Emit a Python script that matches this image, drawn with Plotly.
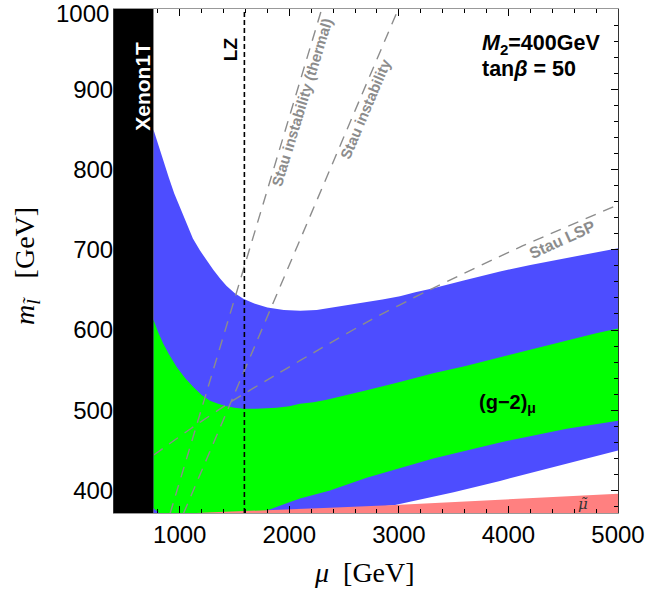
import plotly.graph_objects as go

# ---------------- data ----------------
x_range = [400, 5000]
y_range = [372, 1000]
x_ticks = [1000, 2000, 3000, 4000, 5000]
y_ticks = [400, 500, 600, 700, 800, 900, 1000]
y_ticktext = ["400", "500", "600", "700", "800", "900", ""]   # top label drawn separately, nudged down
y_top_label = "1000"

xenon_mu_max = 760          # Xenon1T excluded region: mu < 760 GeV
lz_mu = 1590                # LZ reach

blue_upper_mu = [760, 790, 820, 860, 900, 950, 1000, 1060, 1120, 1185, 1250, 1306, 1370, 1428, 1500, 1580,
                 1680, 1800, 1950, 2100, 2250, 2400, 2550, 2706, 2850, 3010, 3150, 3314, 3600, 3923, 4200,
                 4532, 4800, 5000]
blue_upper_v = [850, 837, 823, 806, 790, 770, 753, 732, 714, 699, 686, 675, 664, 655, 646, 639,
                633, 628, 625, 624, 625, 628, 631, 635, 638, 642, 647, 652, 662, 673, 681,
                690, 697, 702]
blue_lower_mu = [760, 2965, 3500, 3923, 4500, 5000]
blue_lower_v = [350, 382, 398, 412, 432, 450]

green_upper_mu = [760, 800, 850, 900, 972, 1050, 1124, 1200, 1276, 1350, 1428, 1500, 1580, 1700, 1885,
                  2000, 2098, 2220, 2341, 2500, 2706, 3000, 3314, 3600, 3923, 4200, 4501, 4800, 5000]
green_upper_v = [613, 598, 583, 570, 554, 540, 529, 519, 512, 508, 505, 503, 502, 502, 503,
                 505, 508, 510, 513, 518, 525, 535, 546, 555, 566, 575, 586, 596, 602]
green_lower_mu = [760, 820, 900, 1500, 1794, 1950, 2098, 2230, 2371, 2706, 3000, 3314, 3923, 4532, 5000]
green_lower_v = [378, 371, 362, 366, 375, 383, 390, 395, 400, 416, 428, 440, 460, 477, 487]

smuon_top_mu = [400, 1300, 2370, 2965, 5000]
smuon_top_v = [367, 373, 378.5, 382, 396]

stau_lsp_mu = [760, 1100, 1460, 1900, 2300, 2750, 3250, 4100, 5000]
stau_lsp_v = [444, 477, 510, 546, 578, 613, 648, 703, 756]
stau_thermal_mu = [911, 2296]
stau_thermal_v = [371, 1000]
stau_inst_mu = [1033, 2995]
stau_inst_v = [371, 1000]

floor_v = 300  # below the visible range, used to close filled regions

# ---------------- colours ----------------
BLUE = "#4d4dff"
GREEN = "#00ff00"
PINK = "#ff8080"
GRAY = "#8c8c8c"

fig = go.Figure()

# blue band
fig.add_trace(go.Scatter(
    x=blue_upper_mu + blue_lower_mu[::-1],
    y=blue_upper_v + blue_lower_v[::-1],
    fill="toself", fillcolor=BLUE, line=dict(width=0), mode="lines",
    hoverinfo="skip"))

# green band
fig.add_trace(go.Scatter(
    x=green_upper_mu + green_lower_mu[::-1],
    y=green_upper_v + green_lower_v[::-1],
    fill="toself", fillcolor=GREEN, line=dict(width=0), mode="lines",
    hoverinfo="skip"))

# smuon (pink) region
fig.add_trace(go.Scatter(
    x=smuon_top_mu + [smuon_top_mu[-1], smuon_top_mu[0]],
    y=smuon_top_v + [floor_v, floor_v],
    fill="toself", fillcolor=PINK, line=dict(width=0), mode="lines",
    hoverinfo="skip"))

# gray dashed stau lines
for mu, v in [(stau_lsp_mu, stau_lsp_v), (stau_thermal_mu, stau_thermal_v), (stau_inst_mu, stau_inst_v)]:
    fig.add_trace(go.Scatter(x=mu, y=v, mode="lines",
                             line=dict(color=GRAY, width=1.4, dash="11px,8px", shape="spline", smoothing=0.6),
                             hoverinfo="skip"))

# LZ line
fig.add_trace(go.Scatter(x=[lz_mu, lz_mu], y=[y_range[0], y_range[1]], mode="lines",
                         line=dict(color="black", width=1.6, dash="5px,3px"),
                         hoverinfo="skip"))

# Xenon1T black region
fig.add_trace(go.Scatter(
    x=[x_range[0], xenon_mu_max, xenon_mu_max, x_range[0], x_range[0]],
    y=[y_range[0] - 50, y_range[0] - 50, y_range[1] + 50, y_range[1] + 50, y_range[0] - 50],
    fill="toself", fillcolor="black", line=dict(width=0), mode="lines",
    hoverinfo="skip"))

SANS = "Liberation Sans, Arial, sans-serif"
SERIF = "Liberation Serif, Times New Roman, serif"
NB = "\u00a0"

ann = []
ann.append(dict(x=653, y=904, text="<b>Xenon1T</b>", textangle=-90, showarrow=False,
                font=dict(family=SANS, size=21, color="white")))
ann.append(dict(x=1459, y=950, text="<b>LZ</b>", textangle=-90, showarrow=False,
                font=dict(family=SANS, size=19, color="black")))
ann.append(dict(x=3740, y=956, text="<b><i>M</i><sub>2</sub>=400GeV</b>", xanchor="left",
                showarrow=False, font=dict(family=SANS, size=21.5, color="black")))
ann.append(dict(x=3740, y=925, text="<b>tan<i>β</i> = 50</b>", xanchor="left",
                showarrow=False, font=dict(family=SANS, size=21.5, color="black")))
ann.append(dict(x=3713, y=509, text="<b>(g−2)<sub>μ</sub></b>", xanchor="left",
                showarrow=False, font=dict(family=SANS, size=20, color="black")))
ann.append(dict(x=4493, y=713, text="<b>Stau LSP</b>", textangle=-24.5, showarrow=False,
                font=dict(family=SANS, size=16, color=GRAY)))
ann.append(dict(x=2691, y=875, text="<b>Stau instability</b>", textangle=-67, showarrow=False,
                font=dict(family=SANS, size=15, color=GRAY)))
ann.append(dict(x=2116, y=883, text="<b>Stau instability (thermal)</b>", textangle=-73, showarrow=False,
                font=dict(family=SANS, size=15, color=GRAY)))
ann.append(dict(x=4681, y=383, text="<i>μ̃</i>", showarrow=False,
                font=dict(family="DejaVu Serif, serif", size=15, color="#333333")))
# top y tick label, nudged down slightly as in the reference
ann.append(dict(xref="paper", yref="y", x=0, y=y_ticks[-1], text=y_top_label,
                xanchor="right", yanchor="middle", xshift=-3, yshift=-4, showarrow=False,
                font=dict(family=SANS, size=24, color="black")))
# axis titles
ann.append(dict(xref="paper", yref="paper", x=0.498, y=-0.118, text="<i>μ</i>" + NB * 2 + "[GeV]",
                showarrow=False, yanchor="middle",
                font=dict(family=SERIF, size=28, color="black")))
ann.append(dict(xref="paper", yref="paper", x=-0.1745, y=0.49,
                text="<i>m</i><sub><i>l̃</i></sub>" + NB * 3 + "[GeV]", textangle=-90,
                showarrow=False, xanchor="center", yanchor="middle",
                font=dict(family=SERIF, size=28, color="black")))

fig.update_layout(
    width=647, height=595,
    margin=dict(l=114, r=29, t=9, b=82, autoexpand=False),
    paper_bgcolor="white", plot_bgcolor="white",
    showlegend=False,
    annotations=ann,
    xaxis=dict(range=x_range, tickvals=x_ticks, ticks="inside", ticklen=7, tickwidth=1,
               tickcolor="black", showline=True, linecolor="#999999", linewidth=1,
               mirror="ticks", showgrid=False, zeroline=False, automargin=False,
               ticklabeloverflow="allow",
               tickfont=dict(family=SANS, size=24, color="black"),
               minor=dict(dtick=200, tick0=0, ticks="inside", ticklen=4, tickcolor="black", showgrid=False)),
    yaxis=dict(range=y_range, tickvals=y_ticks, ticktext=y_ticktext, ticks="inside", ticklen=7, tickwidth=1,
               tickcolor="black", showline=True, linecolor="#333333", linewidth=1,
               mirror="ticks", showgrid=False, zeroline=False, ticklabelstandoff=-5,
               automargin=False, ticklabeloverflow="allow",
               tickfont=dict(family=SANS, size=24, color="black"),
               minor=dict(dtick=20, tick0=0, ticks="inside", ticklen=4, tickcolor="black", showgrid=False)),
)

fig.write_html("out.html", config={"displayModeBar": False},
               post_script="document.body.style.margin='0px';")
